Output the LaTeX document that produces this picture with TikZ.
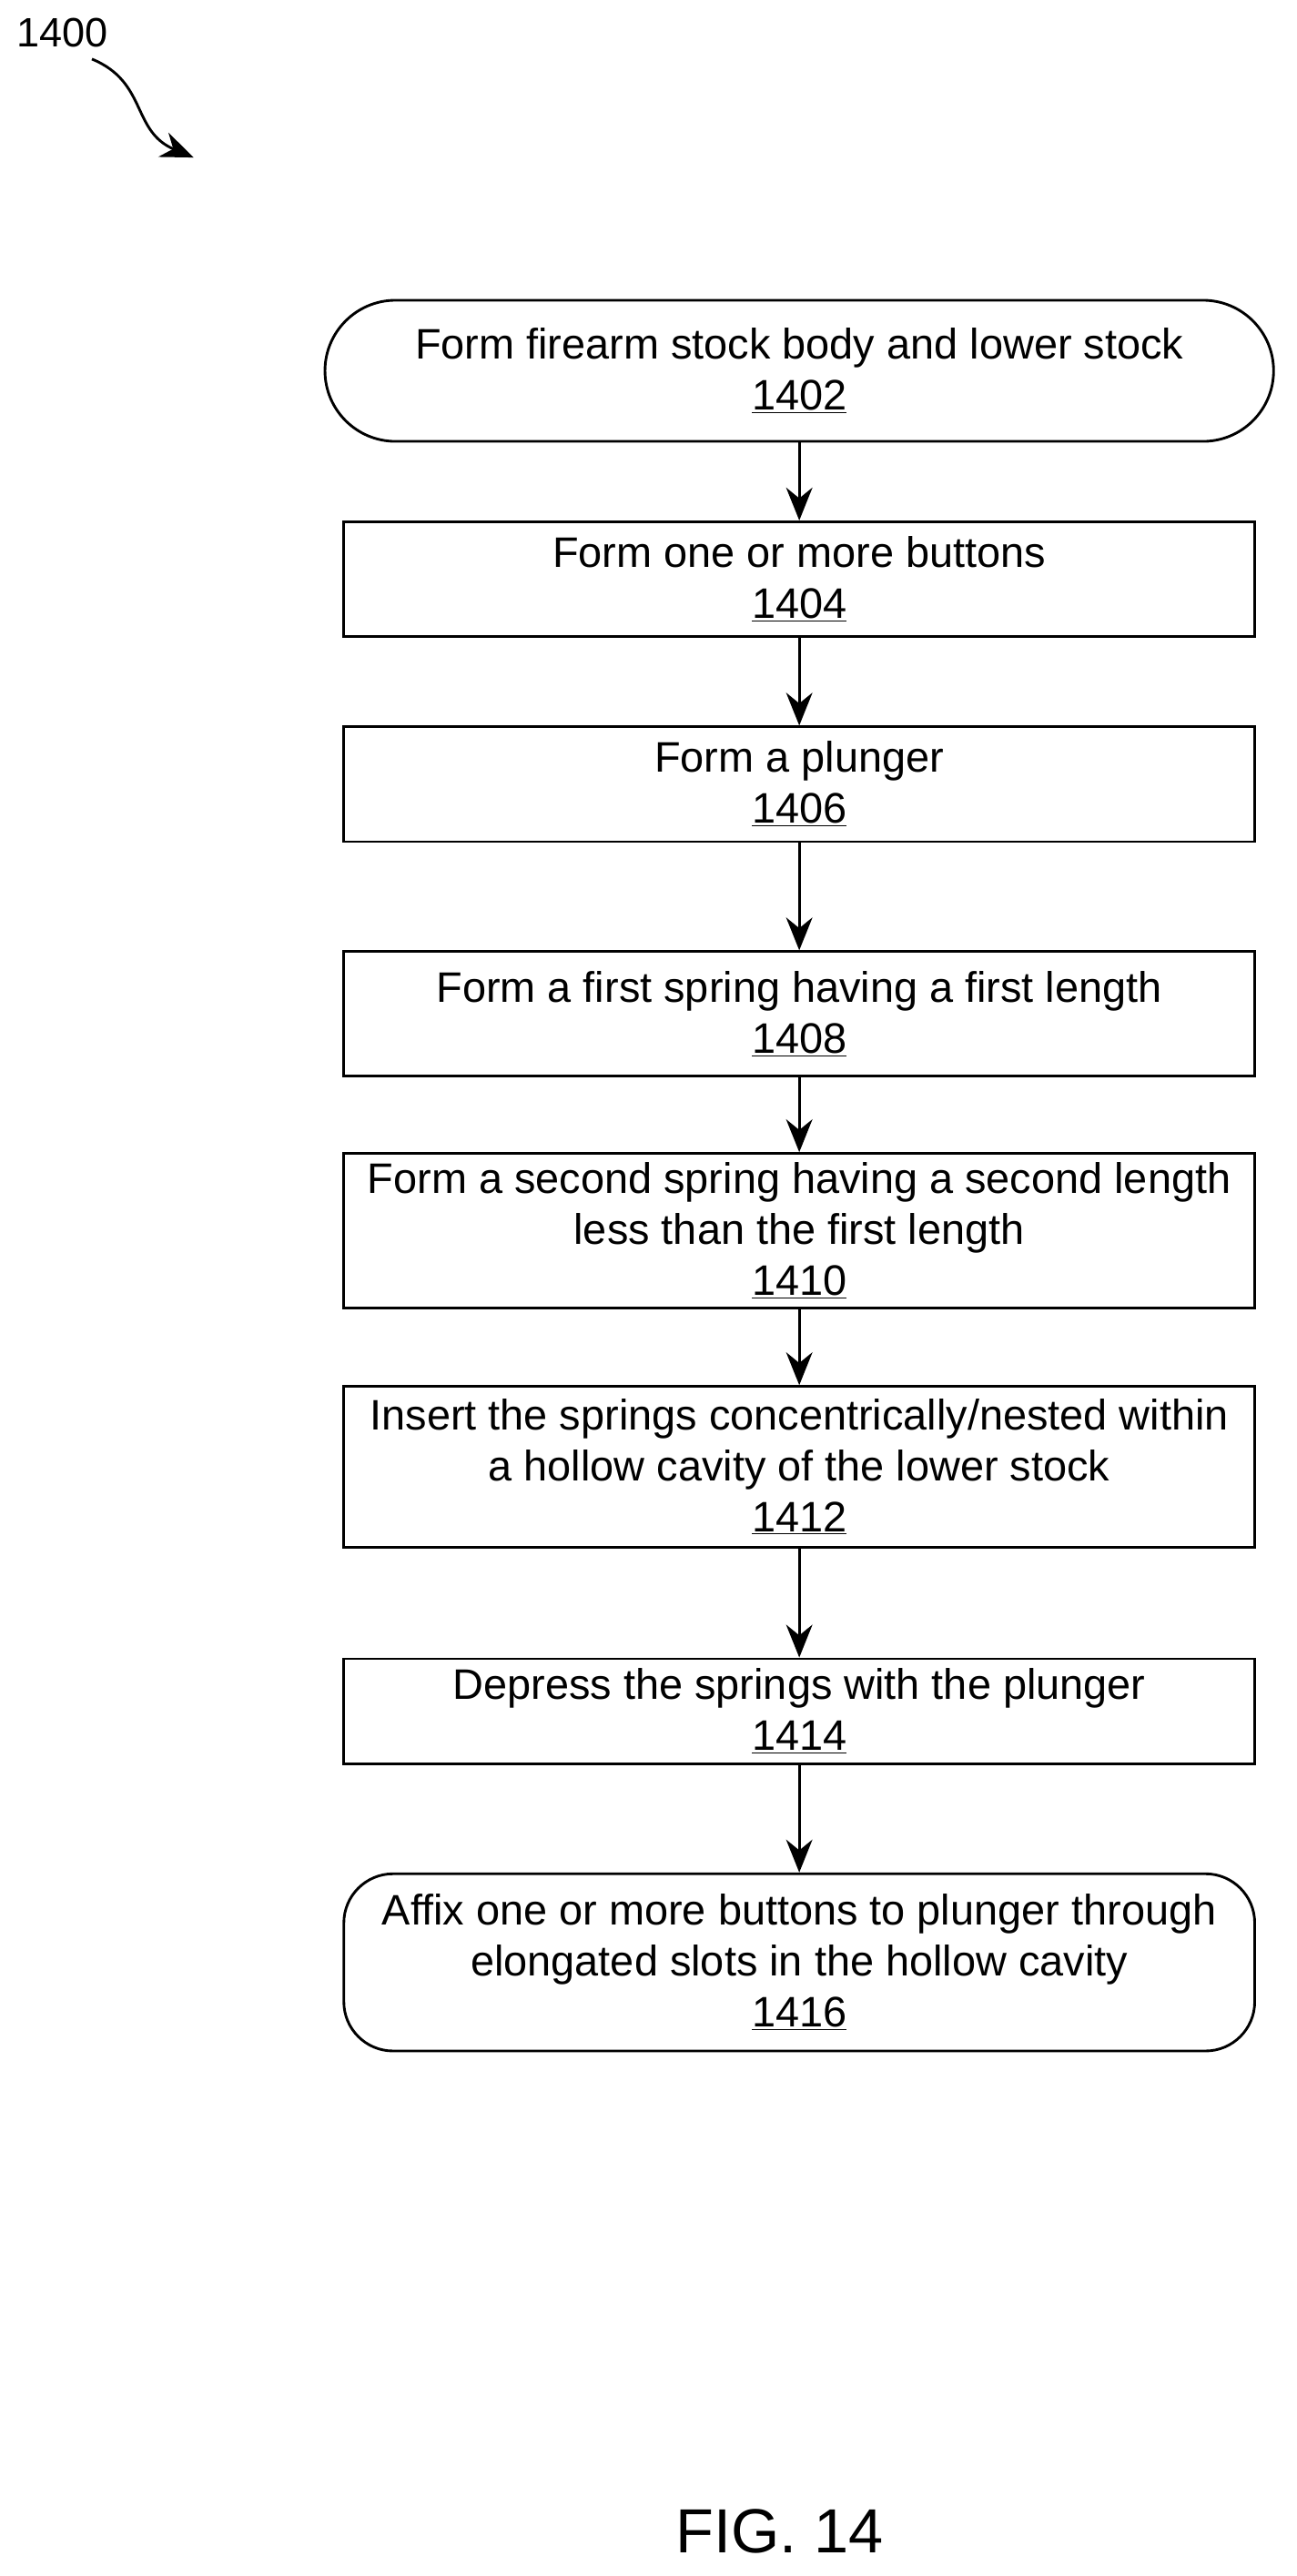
\documentclass[tikz,border=0pt]{standalone}
\usepackage{fontspec}
\setmainfont{Liberation Sans}
\usetikzlibrary{arrows.meta,positioning}

\tikzset{
    stepbox/.style={draw, line width=1.6pt, minimum width=555pt, align=center, inner sep=2pt,
        font=\fontsize{26}{31}\selectfont},
    endbox/.style={stepbox, rounded corners=30pt},
    flow/.style={-{Stealth[length=20pt,width=16pt]}, line width=1.6pt}
}

\begin{document}
\begin{tikzpicture}[x=1pt,y=-1pt]

    \useasboundingbox (0,0) rectangle (790,1570);

    % steps
    \node[stepbox, minimum width=578pt, minimum height=86pt, rounded corners=43pt] (s1402) at (487,226) {Form firearm stock body and lower stock\\\underline{1402}};
    \node[stepbox, minimum height=70pt] (s1404) at (487,353) {Form one or more buttons\\\underline{1404}};
    \node[stepbox, minimum height=70pt] (s1406) at (487,478) {Form a plunger\\\underline{1406}};
    \node[stepbox, minimum height=76pt] (s1408) at (487,618) {Form a first spring having a first length\\\underline{1408}};
    \node[stepbox, minimum height=94pt] (s1410) at (487,750) {Form a second spring having a second length\\less than the first length\\\underline{1410}};
    \node[stepbox, minimum height=98pt] (s1412) at (487,894) {Insert the springs concentrically/nested within\\a hollow cavity of the lower stock\\\underline{1412}};
    \node[stepbox, minimum height=64pt] (s1414) at (487,1043) {Depress the springs with the plunger\\\underline{1414}};
    \node[endbox, minimum height=108pt] (s1416) at (487,1196) {Affix one or more buttons to plunger through\\elongated slots in the hollow cavity\\\underline{1416}};

    % connectors
    \draw[flow] (s1402) -- (s1404);
    \draw[flow] (s1404) -- (s1406);
    \draw[flow] (s1406) -- (s1408);
    \draw[flow] (s1408) -- (s1410);
    \draw[flow] (s1410) -- (s1412);
    \draw[flow] (s1412) -- (s1414);
    \draw[flow] (s1414) -- (s1416);

    % figure label
    \node[font=\fontsize{25}{28}\selectfont] (lbl1400) at (38,20) {1400};
    \coordinate (tip1400) at (118,96);
    \draw[flow] (56,36) .. controls (90,50) and (80,80) .. (tip1400);

    \node[font=\fontsize{38}{40}\selectfont] (fig) at (475,1543) {FIG. 14};

\end{tikzpicture}
\end{document}
